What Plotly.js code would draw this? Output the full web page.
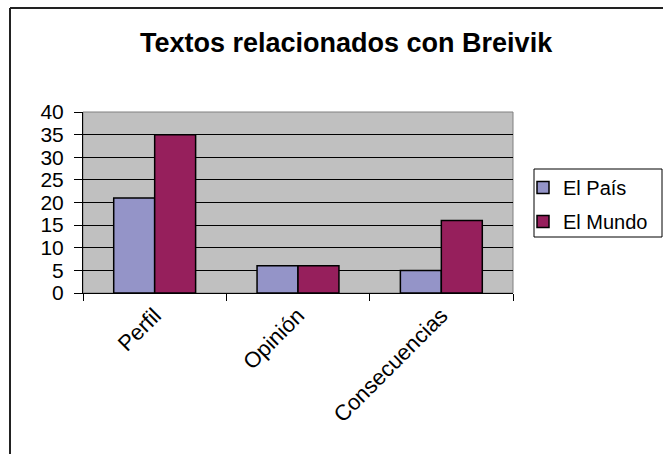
<!DOCTYPE html>
<html>
<head>
<meta charset="utf-8">
<script src="https://cdn.plot.ly/plotly-3.0.1.min.js"></script>
<style>
html,body{margin:0;padding:0;background:#fff;}
#chart{width:663px;height:454px;}
</style>
</head>
<body>
<div id="chart"></div>
<script>
// Data
const categories = ["Perfil", "Opinión", "Consecuencias"];
const seriesNames = ["El País", "El Mundo"];
const elPais = [21, 6, 5];
const elMundo = [35, 6, 16];
const yTicks = [0, 5, 10, 15, 20, 25, 30, 35, 40];
const chartTitle = "Textos relacionados con Breivik";

// Styling
const W = 663, H = 454;
const M = {l: 83, r: 150, t: 112, b: 161};
const pw = W - M.l - M.r, ph = H - M.t - M.b;
const FONT = "Liberation Sans, Arial, sans-serif";
const px2x = p => (p - M.l) / pw;
const px2y = p => (H - M.b - p) / ph;

const traces = [
  {type: "bar", name: seriesNames[0], x: categories, y: elPais, legendgroup: "a",
   marker: {color: "#9494C8", line: {color: "#000", width: 1.5}}, hoverinfo: "none"},
  {type: "bar", name: seriesNames[1], x: categories, y: elMundo, legendgroup: "b",
   marker: {color: "#961F5C", line: {color: "#000", width: 1.5}}, hoverinfo: "none"}
];

const layout = {
  width: W, height: H,
  margin: M,
  paper_bgcolor: "rgba(0,0,0,0)",
  plot_bgcolor: "#C0C0C0",
  font: {family: FONT, color: "#000"},
  title: {text: "<b>" + chartTitle + "</b>", font: {family: FONT, size: 27, color: "#000"},
          x: 0.522, xref: "container", xanchor: "center",
          y: 1 - 43 / H, yref: "container", yanchor: "middle"},
  barmode: "group",
  bargap: 1.5 / 3.5,
  bargroupgap: 0,
  showlegend: true,
  legend: {xref: "container", yref: "container",
           x: 523 / W, xanchor: "left", y: 1 - 168 / H, yanchor: "top",
           bgcolor: "rgba(0,0,0,0)", borderwidth: 0,
           font: {family: FONT, size: 20, color: "#000"},
           tracegroupgap: 5, itemwidth: 30, traceorder: "grouped"},
  xaxis: {type: "category", showgrid: false, zeroline: false,
          showline: true, linecolor: "#000", linewidth: 1,
          ticks: "outside", tickson: "boundaries", ticklen: 7, tickcolor: "#000", tickwidth: 1,
          tickangle: -45, tickfont: {family: FONT, size: 22, color: "#000"}},
  yaxis: {range: [0, 40], tickvals: yTicks, showgrid: true, gridcolor: "#000", gridwidth: 1,
          zeroline: false, showline: true, linecolor: "#000", linewidth: 1,
          ticks: "outside", ticklen: 8, tickcolor: "#000", tickwidth: 1,
          ticklabelstandoff: 6,
          tickfont: {family: FONT, size: 21, color: "#000"}},
  shapes: [
    {type: "rect", xref: "paper", yref: "paper", x0: 0, x1: 1, y0: 0, y1: 1,
     line: {color: "#808080", width: 1}, layer: "below"},
    // legend box
    {type: "rect", xref: "paper", yref: "paper", x0: px2x(534), x1: px2x(662), y0: px2y(237), y1: px2y(169),
     line: {color: "#000", width: 1}, fillcolor: "#fff", layer: "below"},
    // outer frame: left and top lines
    {type: "line", xref: "paper", yref: "paper", x0: px2x(10), x1: px2x(10), y0: px2y(8), y1: px2y(460),
     line: {color: "#222", width: 2}},
    {type: "line", xref: "paper", yref: "paper", x0: px2x(10), x1: px2x(670), y0: px2y(8), y1: px2y(8),
     line: {color: "#222", width: 2}}
  ]
};

Plotly.newPlot("chart", traces, layout, {staticPlot: true, displayModeBar: false});
</script>
</body>
</html>
